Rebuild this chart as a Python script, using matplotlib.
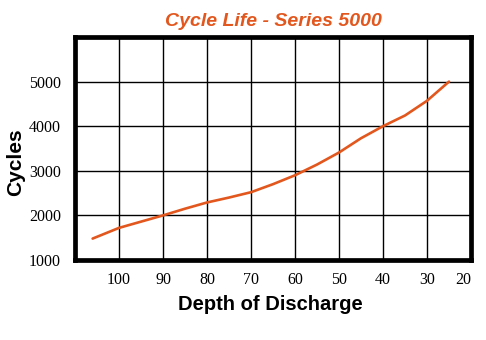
import numpy as np
import matplotlib
matplotlib.use("Agg")
from matplotlib import pyplot as plt

# Cycle life vs depth of discharge
depth_of_discharge = [106, 100, 95, 90, 85, 80, 75, 70, 65, 60, 55, 50, 45, 40, 35, 30, 25]
cycles = [1480, 1720, 1860, 2000, 2150, 2290, 2400, 2520, 2700, 2900, 3140, 3410, 3730, 4000, 4240, 4570, 5000]

x_ticks = [100, 90, 80, 70, 60, 50, 40, 30, 20]
y_ticks = [1000, 2000, 3000, 4000, 5000]

orange = "#E2571E"

fig = plt.figure(figsize=(4.86, 3.40), dpi=100)
ax = fig.add_axes([75 / 486, 1 - 260 / 340, 396 / 486, 223 / 340])

ax.plot(depth_of_discharge, cycles, color=orange, linewidth=1.9,
        solid_capstyle="round", solid_joinstyle="round")

ax.set_xlim(110, 20)
ax.set_ylim(1000, 6000)
ax.set_xticks(x_ticks)
ax.set_yticks(y_ticks)
ax.grid(True, color="black", linewidth=1.0)
ax.tick_params(length=0, labelsize=11.5, pad=9)
for lbl in ax.get_xticklabels() + ax.get_yticklabels():
    lbl.set_fontfamily("Liberation Serif")
ax.get_xticklabels()[-1].set_horizontalalignment("right")
ax.tick_params(axis="y", pad=10)

for sp in ax.spines.values():
    sp.set_linewidth(3.4)
    sp.set_color("black")

fig.text(273 / 486, 1 - 22 / 340, "Cycle Life - Series 5000", ha="center", va="center",
         fontsize=14, fontweight="bold", fontstyle="italic", color=orange,
         family="Liberation Sans")
fig.text(270 / 486, 1 - 305 / 340, "Depth of Discharge", ha="center", va="center",
         fontsize=14.5, fontweight="bold", family="Liberation Sans")
fig.text(16 / 486, 1 - 162 / 340, "Cycles", ha="center", va="center", rotation=90,
         fontsize=15, fontweight="bold", family="Liberation Sans")

fig.savefig("out.png", dpi=100)
